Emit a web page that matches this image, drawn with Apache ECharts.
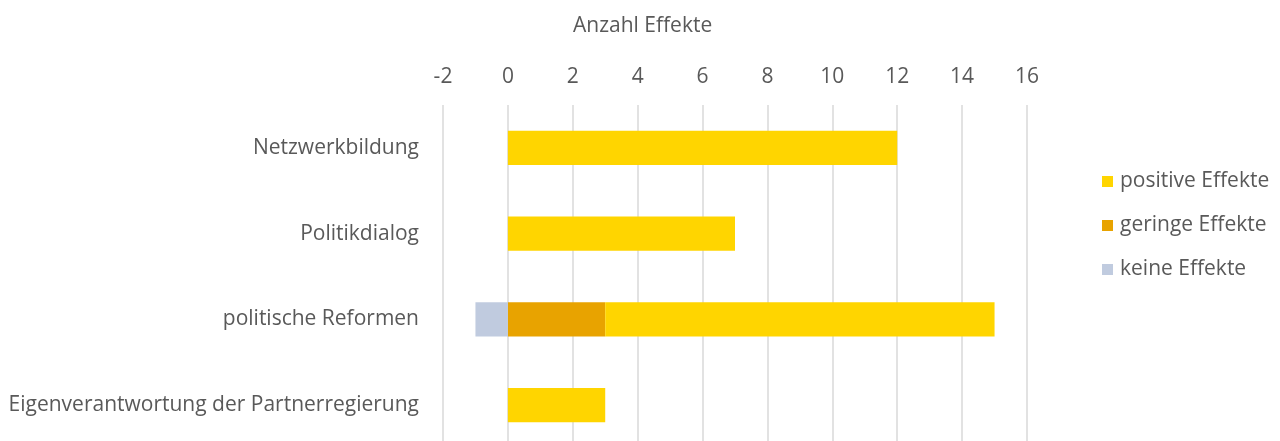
<!DOCTYPE html>
<html>
<head>
<meta charset="utf-8">
<script src="https://cdn.jsdelivr.net/npm/echarts@6/dist/echarts.min.js"></script>
<style>
  html, body { margin: 0; padding: 0; background: #fff; }
  #chart { width: 1280px; height: 441px; }
</style>
</head>
<body>
<div id="chart"></div>
<script>
const categories = ['Netzwerkbildung', 'Politikdialog', 'politische Reformen', 'Eigenverantwortung der Partnerregierung'];
const positiveValues = [12, 7, 12, 3];
const geringeValues = [0, 0, 3, 0];
const keineValues = [0, 0, -1, 0];
const legendNames = ['positive Effekte', 'geringe Effekte', 'keine Effekte'];
const axisTitle = 'Anzahl Effekte';

const textColor = '#595959';
const fontFamily = '"Open Sans", sans-serif';

const chart = echarts.init(document.getElementById('chart'));

const option = {
  animation: false,
  textStyle: { fontFamily: fontFamily },
  // axis title sits left of the plot centre in the original, so it is a title
  title: {
    text: axisTitle,
    left: 573,
    top: 16,
    padding: 0,
    textStyle: { color: textColor, fontSize: 21, fontWeight: 'normal', fontFamily: fontFamily }
  },
  // plot runs a little past the bottom edge of the picture
  grid: {
    left: 443, right: 253, top: 105, height: 343,
    containLabel: false,
    outerBoundsMode: 'none'
  },
  legend: {
    data: legendNames,
    orient: 'vertical',
    left: 1102,
    top: 171,
    padding: 0,
    itemWidth: 11,
    itemHeight: 11,
    itemGap: 23,
    icon: 'rect',
    textStyle: { color: textColor, fontSize: 21, fontFamily: fontFamily, padding: [0, 0, 0, 2] }
  },
  xAxis: {
    type: 'value',
    position: 'top',
    min: -2,
    max: 16,
    interval: 2,
    axisLine: { show: false },
    axisTick: { show: false },
    axisLabel: { color: textColor, fontSize: 21, margin: 17, fontFamily: fontFamily },
    splitLine: { show: true, lineStyle: { color: '#d9d9d9', width: 1.5 } }
  },
  yAxis: {
    type: 'category',
    inverse: true,
    data: categories,
    axisLine: { show: false },
    axisTick: { show: false },
    axisLabel: { color: textColor, fontSize: 21, margin: 24, fontFamily: fontFamily }
  },
  series: [
    {
      name: 'geringe Effekte',
      type: 'bar',
      stack: 'total',
      barWidth: '40%',
      itemStyle: { color: '#E8A300' },
      data: geringeValues
    },
    {
      name: 'positive Effekte',
      type: 'bar',
      stack: 'total',
      barWidth: '40%',
      itemStyle: { color: '#FFD500' },
      data: positiveValues
    },
    {
      name: 'keine Effekte',
      type: 'bar',
      stack: 'total',
      barWidth: '40%',
      itemStyle: { color: '#C0CBDF' },
      data: keineValues
    }
  ]
};

chart.setOption(option);
</script>
</body>
</html>
